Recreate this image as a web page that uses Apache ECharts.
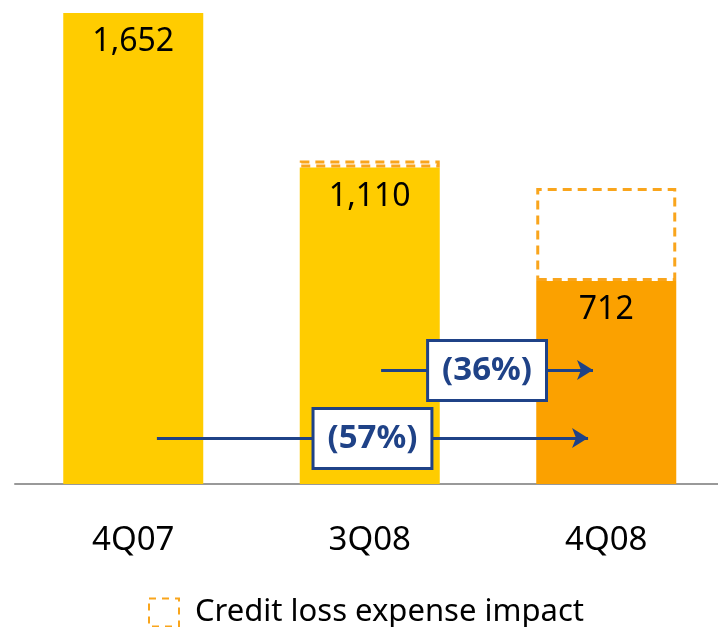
<!DOCTYPE html>
<html>
<head>
<meta charset="utf-8">
<script src="https://cdn.jsdelivr.net/npm/echarts@6/dist/echarts.min.js"></script>
<style>
  html, body, #main { margin: 0; padding: 0; width: 718px; height: 627px; overflow: hidden; background: #fff; }
</style>
</head>
<body>
<div id="main"></div>
<script>
// data
var quarters = ["4Q07", "3Q08", "4Q08"];
var baseValues = [1652, 1110, 712];
var impactValues = [null, 25, 326];
var barColors = ["#FFCC00", "#FFCC00", "#FBA100"];
var changeLabels = ["(36%)", "(57%)"];

var blue = "#1F4287";
var dashOrange = "#F9A51C";

var myChart = echarts.init(document.getElementById("main"));

function arrowLabel(text) {
  return {
    show: true,
    position: "middle",
    formatter: text,
    color: blue,
    fontFamily: "Noto Sans",
    fontWeight: "bold",
    fontSize: 33,
    backgroundColor: "#fff",
    borderColor: blue,
    borderWidth: 3,
    padding: [12, 13, 12, 13],
    distance: -29
  };
}

var option = {
  animation: false,
  textStyle: { fontFamily: "Noto Sans" },
  grid: { left: 15, width: 709.5, top: 13, bottom: 143, outerBoundsMode: "none" },
  legend: {
    left: 148,
    top: 597,
    padding: 0,
    itemWidth: 30,
    itemHeight: 28,
    itemGap: 10,
    textStyle: { fontSize: 31, color: "#000", fontFamily: "Noto Sans", padding: [0, 0, 0, 11] },
    data: [{
      name: "Credit loss expense impact",
      icon: "rect",
      itemStyle: { color: "#fff", borderColor: dashOrange, borderWidth: 2, borderType: [7, 6] }
    }]
  },
  xAxis: [{
    type: "category",
    data: quarters,
    axisLine: { lineStyle: { color: "#999", width: 2 } },
    axisTick: { show: false },
    axisLabel: { fontSize: 33, color: "#000", margin: 40 }
  }, {
    // hidden helper axis for the change arrows
    type: "value",
    min: -0.5,
    max: 2.5,
    show: false
  }],
  yAxis: {
    type: "value",
    min: 0,
    max: 1652,
    show: false,
    splitLine: { show: false }
  },
  series: [{
    name: "Total",
    type: "bar",
    stack: "a",
    barWidth: 140,
    data: baseValues.map(function (v, i) {
      return { value: v, itemStyle: { color: barColors[i] } };
    }),
    label: {
      show: true,
      position: "insideTop",
      distance: 13,
      fontSize: 32,
      color: "#000",
      formatter: function (p) { return p.value.toLocaleString("en-US"); }
    }
  }, {
    name: "Credit loss expense impact",
    type: "bar",
    stack: "a",
    barWidth: 140,
    data: impactValues,
    itemStyle: { color: "rgba(255,255,255,0)", borderColor: dashOrange, borderWidth: 3, borderType: [9, 6] }
  }, {
    name: "arrows",
    type: "line",
    xAxisIndex: 1,
    data: [],
    markLine: {
      silent: true,
      symbol: ["none", "arrow"],
      symbolSize: [15, 16],
      lineStyle: { color: blue, width: 3, type: "solid" },
      data: [
        [{ coord: [1.048, 400], label: arrowLabel(changeLabels[0]) }, { coord: [1.944, 400] }],
        [{ coord: [0.100, 161], label: arrowLabel(changeLabels[1]) }, { coord: [1.923, 161] }]
      ]
    }
  }]
};

myChart.setOption(option);
</script>
</body>
</html>
